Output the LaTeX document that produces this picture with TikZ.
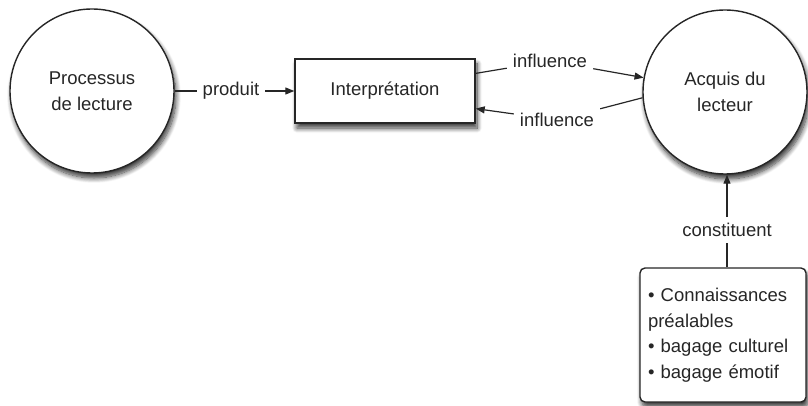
\documentclass[tikz,border=0pt]{standalone}
\usepackage{fontspec}
\setmainfont{Liberation Sans}
\usetikzlibrary{arrows.meta,shadows.blur}

\tikzset{
    concept/.style={circle,draw=black!85,line width=1.4pt,fill=white,minimum size=164pt,
        inner sep=0pt,align=center,
        blur shadow={shadow xshift=2pt,shadow yshift=-5pt,shadow blur radius=5pt,shadow blur steps=10,shadow opacity=80}},
    notion/.style={rectangle,draw=black!85,line width=1.4pt,fill=white,
        blur shadow={shadow xshift=2pt,shadow yshift=-5pt,shadow blur radius=5pt,shadow blur steps=10,shadow opacity=80}},
    relation/.style={inner xsep=6pt,inner ysep=6pt},
    link/.style={draw=black!85,line width=1.2pt},
    flow/.style={-{Triangle[length=9pt,width=7pt]}}
}

\begin{document}
\begin{tikzpicture}[x=1pt,y=-1pt,font=\fontsize{18.5}{25.5}\selectfont,text=black!85]
    \useasboundingbox (0,0) rectangle (808,406);

    \node[concept] (lecture) at (92,91) {Processus\\de lecture};
    \node[notion,minimum width=180pt,minimum height=64pt] (interp) at (385,91) {Interprétation};
    \node[concept] (acquis) at (725,92) {Acquis du\\lecteur};
    \node[notion,rounded corners=5pt,text width=150pt,inner xsep=8pt,minimum height=134pt,align=left]
        (bagage) at (723,335) {• Connaissances\\préalables\\• bagage culturel\\• bagage émotif};

    \node[relation] (produit) at (231,91) {produit};
    \node[relation] (infA) at (550,61) {influence};
    \node[relation] (infB) at (557,120) {influence};
    \node[relation] (constit) at (727,230) {constituent};

    \draw[link] (lecture) -- (produit);
    \draw[link,flow] (produit) -- (interp);
    \draw[link] (interp.11) -- (infA);
    \draw[link,flow] (infA) -- (acquis.170);
    \draw[link] (acquis.184) -- (infB);
    \draw[link,flow] (infB) -- (interp.-11);
    \draw[link] (bagage.north -| constit) -- (constit);
    \draw[link,flow] (constit) -- (constit |- acquis.south);
\end{tikzpicture}
\end{document}
